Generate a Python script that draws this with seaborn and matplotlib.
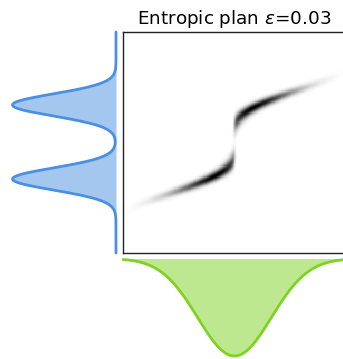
import numpy as np
import pandas as pd
import matplotlib
matplotlib.use("Agg")
import matplotlib.pyplot as plt
import seaborn as sns

# Source distribution (vertical axis): two equal Gaussian bumps
source_means = [0.335, 0.67]
source_stds = [0.05, 0.05]
source_weights = [0.5, 0.5]

# Target distribution (horizontal axis): a single wide Gaussian
target_means = [0.5]
target_stds = [0.165]
target_weights = [1.0]

# Entropic blur
epsilon = 0.03
n_points = 200

source_color = "#4a90e2"
target_color = "#7ed321"

grid = np.linspace(0.0, 1.0, n_points)


def mixture(means, stds, weights):
    dens = sum(w * np.exp(-0.5 * ((grid - m) / s) ** 2) / s
               for m, s, w in zip(means, stds, weights))
    return dens / dens.sum()


def logsumexp(z, axis):
    zmax = z.max(axis=axis, keepdims=True)
    return np.squeeze(zmax, axis=axis) + np.log(np.exp(z - zmax).sum(axis=axis))


a = mixture(source_means, source_stds, source_weights)   # rows  (y)
b = mixture(target_means, target_stds, target_weights)   # cols  (x)

# Squared-distance cost, log-domain Sinkhorn with epsilon-scaling
C = (grid[:, None] - grid[None, :]) ** 2
log_a, log_b = np.log(a), np.log(b)
f = np.zeros(n_points)
g = np.zeros(n_points)
reg_final = epsilon ** 2
for reg in list(np.geomspace(0.2, reg_final, 25)) + [reg_final] * 1500:
    f = reg * log_a - reg * logsumexp((g[None, :] - C) / reg, axis=1)
    g = reg * log_b - reg * logsumexp((f[:, None] - C) / reg, axis=0)
plan = np.exp((f[:, None] + g[None, :] - C) / reg_final)

sns.set_style("white")
plt.rcParams["font.family"] = ["DejaVu Sans"]

W, H = 343, 359
fig = plt.figure(figsize=(W / 100, H / 100), dpi=100)


def box(x0, y0, x1, y1):
    return [x0 / W, (H - y1) / H, (x1 - x0) / W, (y1 - y0) / H]


ax_plan = fig.add_axes(box(123, 32, 346, 252.5))
ax_src = fig.add_axes(box(12.5, 32, 116, 253))
ax_tgt = fig.add_axes(box(123, 258.5, 346, 356))

# Coupling matrix
sns.heatmap(plan, ax=ax_plan, cmap="gray_r", vmin=0, vmax=plan.max(),
            cbar=False, xticklabels=False, yticklabels=False)
ax_plan.invert_yaxis()
ax_plan.set_xticks([])
ax_plan.set_yticks([])
for sp in ax_plan.spines.values():
    sp.set_visible(True)
    sp.set_color("#222222")
    sp.set_linewidth(1.0)
ax_plan.set_title(f"Entropic plan $\\varepsilon$={epsilon}", fontsize=13.2,
                  color="black")

# Source marginal, drawn vertically and facing left
src = pd.DataFrame({"pos": grid, "mass": a})
sns.lineplot(data=src, x="mass", y="pos", orient="y", ax=ax_src,
             color=source_color, linewidth=2)
ax_src.fill_betweenx(grid, 0, a, color=source_color, alpha=0.5, linewidth=0)
ax_src.set_xlim(a.max(), 0)
ax_src.set_ylim(0, 1)
ax_src.set_axis_off()

# Target marginal, drawn below and facing down
tgt = pd.DataFrame({"pos": grid, "mass": b})
sns.lineplot(data=tgt, x="pos", y="mass", ax=ax_tgt,
             color=target_color, linewidth=2)
ax_tgt.fill_between(grid, 0, b, color=target_color, alpha=0.5, linewidth=0)
ax_tgt.set_xlim(0, 1)
ax_tgt.set_ylim(b.max(), 0)
ax_tgt.set_axis_off()

for ax in (ax_src, ax_tgt):
    for line in ax.lines:
        line.set_clip_on(False)

fig.savefig("out.png", dpi=100)
